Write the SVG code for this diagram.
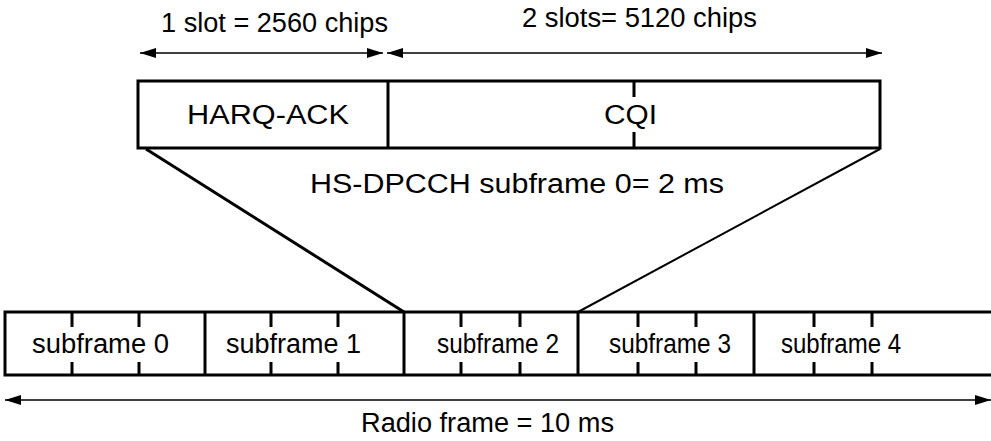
<svg xmlns="http://www.w3.org/2000/svg" width="991" height="441" viewBox="0 0 991 441">
<style>
text{font-family:"Liberation Sans",Arial,sans-serif;font-size:27px;fill:#000}
.box{fill:#fff;stroke:#000;stroke-width:3}
.tick{stroke:#000;stroke-width:3}
.dim{stroke:#000;stroke-width:1.3;fill:none}
</style>
<defs>
<marker id="ah" viewBox="0 0 16 10" refX="16" refY="5" markerWidth="16" markerHeight="10" markerUnits="userSpaceOnUse" orient="auto-start-reverse">
<path d="M0,0 L16,5 L0,10 Z" fill="#000"/>
</marker>
</defs>
<g id="dimensions">
<line class="dim" x1="140" y1="53" x2="383" y2="53" marker-start="url(#ah)" marker-end="url(#ah)"/>
<line class="dim" x1="387" y1="53" x2="882" y2="53" marker-start="url(#ah)" marker-end="url(#ah)"/>
<line class="dim" x1="5" y1="400" x2="991" y2="400" marker-start="url(#ah)" marker-end="url(#ah)"/>
<text x="161" y="32" textLength="227" lengthAdjust="spacingAndGlyphs">1 slot = 2560 chips</text>
<text x="522" y="27" textLength="235" lengthAdjust="spacingAndGlyphs">2 slots= 5120 chips</text>
<text x="361" y="432" textLength="253" lengthAdjust="spacingAndGlyphs">Radio frame = 10 ms</text>
</g>
<g id="connectors">
<line x1="146" y1="149" x2="404" y2="312" stroke="#000" stroke-width="3"/>
<line x1="880" y1="149" x2="578" y2="312" stroke="#000" stroke-width="2"/>
</g>
<g id="hs-dpcch">
<rect class="box" x="138" y="81" width="742" height="67"/>
<line class="tick" x1="388" y1="81" x2="388" y2="148"/>
<line class="tick" x1="634" y1="81" x2="634" y2="97"/>
<line class="tick" x1="634" y1="132" x2="634" y2="148"/>
<text x="187" y="124" textLength="162" lengthAdjust="spacingAndGlyphs">HARQ-ACK</text>
<text x="604" y="124" textLength="53" lengthAdjust="spacingAndGlyphs">CQI</text>
<text x="310" y="193" textLength="414" lengthAdjust="spacingAndGlyphs">HS-DPCCH subframe 0= 2 ms</text>
</g>
<g id="radio-frame">
<rect class="box" x="5" y="312" width="995" height="63"/>
<line class="tick" x1="205" y1="312" x2="205" y2="375"/>
<line class="tick" x1="404" y1="312" x2="404" y2="375"/>
<line class="tick" x1="578" y1="312" x2="578" y2="375"/>
<line class="tick" x1="754" y1="312" x2="754" y2="375"/>
<g class="tick">
<line x1="72" y1="312" x2="72" y2="327"/><line x1="72" y1="362" x2="72" y2="375"/>
<line x1="139" y1="312" x2="139" y2="327"/><line x1="139" y1="362" x2="139" y2="375"/>
<line x1="271" y1="312" x2="271" y2="327"/><line x1="271" y1="362" x2="271" y2="375"/>
<line x1="338" y1="312" x2="338" y2="327"/><line x1="338" y1="362" x2="338" y2="375"/>
<line x1="461" y1="312" x2="461" y2="327"/><line x1="461" y1="362" x2="461" y2="375"/>
<line x1="520" y1="312" x2="520" y2="327"/><line x1="520" y1="362" x2="520" y2="375"/>
<line x1="638" y1="312" x2="638" y2="327"/><line x1="638" y1="362" x2="638" y2="375"/>
<line x1="696" y1="312" x2="696" y2="327"/><line x1="696" y1="362" x2="696" y2="375"/>
<line x1="814" y1="312" x2="814" y2="327"/><line x1="814" y1="362" x2="814" y2="375"/>
<line x1="872" y1="312" x2="872" y2="327"/><line x1="872" y1="362" x2="872" y2="375"/>
</g>
<text x="32" y="353" textLength="137" lengthAdjust="spacingAndGlyphs">subframe 0</text>
<text x="226" y="353" textLength="135" lengthAdjust="spacingAndGlyphs">subframe 1</text>
<text x="437" y="353" textLength="122" lengthAdjust="spacingAndGlyphs">subframe 2</text>
<text x="609" y="353" textLength="122" lengthAdjust="spacingAndGlyphs">subframe 3</text>
<text x="781" y="353" textLength="120" lengthAdjust="spacingAndGlyphs">subframe 4</text>
</g>
</svg>
